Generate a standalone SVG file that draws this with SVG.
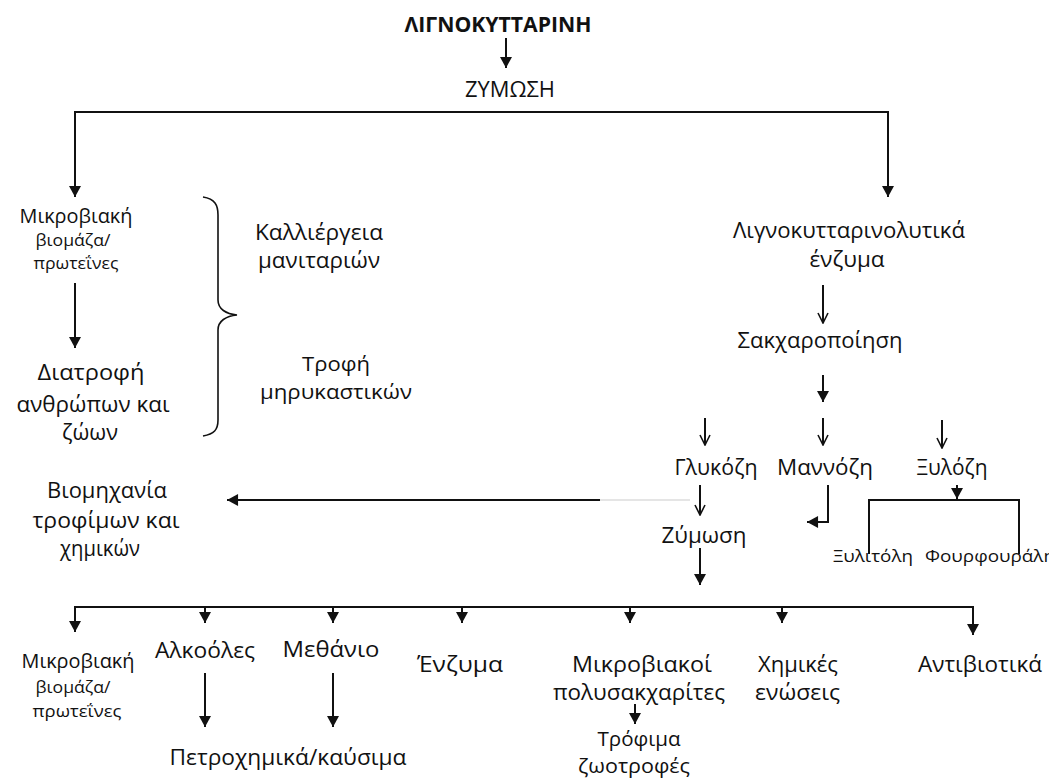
<svg xmlns="http://www.w3.org/2000/svg" width="1049" height="778" viewBox="0 0 1049 778">
<style>
text{font-family:"Open Sans","Noto Sans",sans-serif;fill:#111;font-size:22px}
.c{text-anchor:middle}
.s{font-size:17px}
.t{font-size:20px}
.ts{font-size:16px}
.b{font-weight:bold;font-size:22px}
.ln{stroke:#111;stroke-width:2;fill:none}
</style>
<defs>
<marker id="fa" viewBox="0 0 12 13" refX="12" refY="6.5" markerWidth="13" markerHeight="12" markerUnits="userSpaceOnUse" orient="auto"><path d="M0,0 L12,6.5 L0,13 z" fill="#111"/></marker>
<marker id="oa" viewBox="0 0 12 12" refX="11" refY="6" markerWidth="12" markerHeight="12" markerUnits="userSpaceOnUse" orient="auto"><path d="M1,1 L11,6 L1,11" fill="none" stroke="#111" stroke-width="1.6"/></marker>
</defs>
<rect width="1049" height="778" fill="#fff"/>
<g id="connectors">
<path class="ln" d="M506,38 V68" marker-end="url(#fa)"/>
<path class="ln" d="M75,150 V112 H888 V150"/>
<path class="ln" d="M75,112 V197" marker-end="url(#fa)"/>
<path class="ln" d="M888,112 V197" marker-end="url(#fa)"/>
<path class="ln" d="M75,283 V348" marker-end="url(#fa)"/>
<path class="ln" d="M203,197 C215,199 218,205 218,215 V300 C218,309 226,314 237,315 C226,316 218,321 218,330 V420 C218,430 214,434 203,436" style="stroke-width:1.6"/>
<path class="ln" d="M823,285 V323" marker-end="url(#oa)"/>
<path class="ln" d="M823,375 V402" marker-end="url(#fa)"/>
<path class="ln" d="M705,418 V445" marker-end="url(#oa)"/>
<path class="ln" d="M823,418 V445" marker-end="url(#oa)"/>
<path class="ln" d="M942,420 V448" marker-end="url(#oa)"/>
<path class="ln" d="M600,500 H227" marker-end="url(#fa)"/>
<path d="M600,500 H690" stroke="#ddd" stroke-width="1.5"/>
<path class="ln" d="M700,485 V515" marker-end="url(#oa)"/>
<path class="ln" d="M828,485 V522 H807" marker-end="url(#fa)"/>
<path class="ln" d="M957,485 V499" marker-end="url(#fa)"/>
<path class="ln" d="M869,554 V500 H1019 V554"/>
<path class="ln" d="M700,548 V585" marker-end="url(#fa)"/>
<path class="ln" d="M75,620 V607 H973 V620"/>
<path class="ln" d="M75,607 V632" marker-end="url(#fa)"/>
<path class="ln" d="M205,607 V623" marker-end="url(#fa)"/>
<path class="ln" d="M333,607 V623" marker-end="url(#fa)"/>
<path class="ln" d="M462,607 V623" marker-end="url(#fa)"/>
<path class="ln" d="M630,607 V623" marker-end="url(#fa)"/>
<path class="ln" d="M782,607 V623" marker-end="url(#fa)"/>
<path class="ln" d="M973,607 V635" marker-end="url(#fa)"/>
<path class="ln" d="M205,673 V727" marker-end="url(#fa)"/>
<path class="ln" d="M333,673 V727" marker-end="url(#fa)"/>
<path class="ln" d="M635,704 V724" marker-end="url(#fa)"/>
</g>
<g id="lignin"><text class="c b" x="498" y="32" textLength="187" lengthAdjust="spacingAndGlyphs">ΛΙΓΝΟΚΥΤΤΑΡΙΝΗ</text></g>
<g id="zymosi"><text class="c" x="510" y="97" textLength="90" lengthAdjust="spacingAndGlyphs">ΖΥΜΩΣΗ</text></g>
<g id="mikrobiomaza1"><text class="c t" x="76" y="223" textLength="113" lengthAdjust="spacingAndGlyphs">Μικροβιακή</text><text class="c ts" x="73" y="246" textLength="75" lengthAdjust="spacingAndGlyphs">βιομάζα/</text><text class="c ts" x="76" y="269" textLength="85" lengthAdjust="spacingAndGlyphs">πρωτεΐνες</text></g>
<g id="kalliergeia"><text class="c" x="319" y="240" textLength="128" lengthAdjust="spacingAndGlyphs">Καλλιέργεια</text><text class="c" x="319" y="268" textLength="122" lengthAdjust="spacingAndGlyphs">μανιταριών</text></g>
<g id="diatrofi"><text class="c" x="91" y="380" textLength="107" lengthAdjust="spacingAndGlyphs">Διατροφή</text><text class="c" x="93" y="412" textLength="153" lengthAdjust="spacingAndGlyphs">ανθρώπων και</text><text class="c" x="90" y="440" textLength="56" lengthAdjust="spacingAndGlyphs">ζώων</text></g>
<g id="trofi"><text class="c t" x="336" y="371" textLength="68" lengthAdjust="spacingAndGlyphs">Τροφή</text><text class="c t" x="336" y="399" textLength="152" lengthAdjust="spacingAndGlyphs">μηρυκαστικών</text></g>
<g id="viomichania"><text class="c" x="107" y="498" textLength="120" lengthAdjust="spacingAndGlyphs">Βιομηχανία</text><text class="c" x="106" y="528" textLength="147" lengthAdjust="spacingAndGlyphs">τροφίμων και</text><text class="c" x="100" y="556" textLength="80" lengthAdjust="spacingAndGlyphs">χημικών</text></g>
<g id="enzyma"><text class="c" x="849" y="238" textLength="232" lengthAdjust="spacingAndGlyphs">Λιγνοκυτταρινολυτικά</text><text class="c" x="847" y="267" textLength="75" lengthAdjust="spacingAndGlyphs">ένζυμα</text></g>
<g id="sakcharopoiisi"><text class="c" x="820" y="348" textLength="165" lengthAdjust="spacingAndGlyphs">Σακχαροποίηση</text></g>
<g id="glykozi"><text class="c" x="716" y="475" textLength="83" lengthAdjust="spacingAndGlyphs">Γλυκόζη</text></g>
<g id="mannozi"><text class="c" x="825" y="475" textLength="96" lengthAdjust="spacingAndGlyphs">Μαννόζη</text></g>
<g id="xylozi"><text class="c" x="952" y="475" textLength="71" lengthAdjust="spacingAndGlyphs">Ξυλόζη</text></g>
<g id="zymosi2"><text class="c" x="704" y="543" textLength="85" lengthAdjust="spacingAndGlyphs">Ζύμωση</text></g>
<g id="xylitoli"><text class="c s" x="873" y="562" textLength="80" lengthAdjust="spacingAndGlyphs">Ξυλιτόλη</text></g>
<g id="fourfourali"><text class="s" x="925" y="562" textLength="130" lengthAdjust="spacingAndGlyphs">Φουρφουράλη</text></g>
<g id="mikrobiomaza2"><text class="c t" x="78" y="668" textLength="113" lengthAdjust="spacingAndGlyphs">Μικροβιακή</text><text class="c ts" x="73" y="693" textLength="75" lengthAdjust="spacingAndGlyphs">βιομάζα/</text><text class="c ts" x="77" y="717" textLength="89" lengthAdjust="spacingAndGlyphs">πρωτεΐνες</text></g>
<g id="alkooles"><text class="c" x="205" y="658" textLength="100" lengthAdjust="spacingAndGlyphs">Αλκοόλες</text></g>
<g id="methanio"><text class="c" x="331" y="657" textLength="97" lengthAdjust="spacingAndGlyphs">Μεθάνιο</text></g>
<g id="enzyma2"><text class="c" x="460" y="672" textLength="86" lengthAdjust="spacingAndGlyphs">Ένζυμα</text></g>
<g id="petrochimika"><text class="c" x="288" y="765" textLength="237" lengthAdjust="spacingAndGlyphs">Πετροχημικά/καύσιμα</text></g>
<g id="polysakcharites"><text class="c" x="642" y="672" textLength="140" lengthAdjust="spacingAndGlyphs">Μικροβιακοί</text><text class="c" x="639" y="700" textLength="172" lengthAdjust="spacingAndGlyphs">πολυσακχαρίτες</text></g>
<g id="trofima"><text class="c t" x="639" y="746" textLength="83" lengthAdjust="spacingAndGlyphs">Τρόφιμα</text><text class="c t" x="634" y="773" textLength="112" lengthAdjust="spacingAndGlyphs">ζωοτροφές</text></g>
<g id="chimikes"><text x="758" y="672" textLength="80" lengthAdjust="spacingAndGlyphs">Χημικές</text><text x="755" y="700" textLength="85" lengthAdjust="spacingAndGlyphs">ενώσεις</text></g>
<g id="antibiotika"><text class="c" x="980" y="672" textLength="124" lengthAdjust="spacingAndGlyphs">Αντιβιοτικά</text></g>
</svg>
